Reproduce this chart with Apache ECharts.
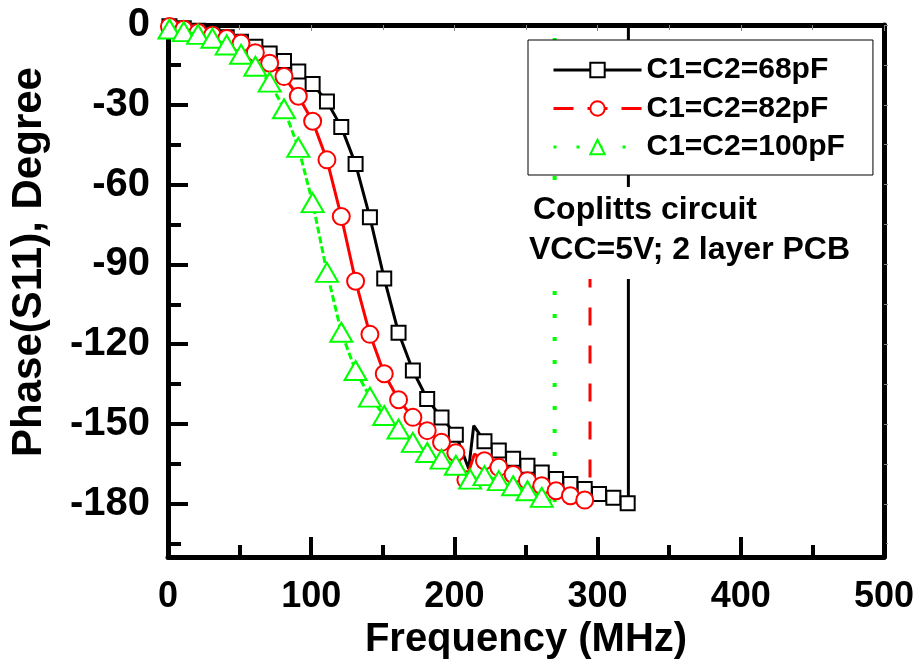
<!DOCTYPE html>
<html><head><meta charset="utf-8">
<script src="https://cdn.jsdelivr.net/npm/echarts@6/dist/echarts.min.js"></script>
<style>html,body{margin:0;padding:0;background:#fff}#c{width:921px;height:666px}</style>
</head><body><div id="c"></div>
<script>
// ---- data ----
const seriesNames = ['C1=C2=68pF', 'C1=C2=82pF', 'C1=C2=100pF'];
const yTickValues = [0, -30, -60, -90, -120, -150, -180];
const yMinorValues = [-15, -45, -75, -105, -135, -165, -195];

const freq68 = [1,11,21,31,41,51,61,71,81,91,101,111,121,131,141,151,161,171,181,191,201,221,231,241,251,261,271,281,291,301,311,321];
const phase68 = [-0.5,-1.2,-2.2,-3.3,-4.6,-6.3,-8.2,-10.7,-13.5,-17.5,-22.2,-28.8,-38.3,-52.3,-72.3,-95.3,-115.7,-129.9,-140.6,-147.6,-154.0,-156.5,-160.0,-163.1,-165.7,-168.2,-170.7,-172.6,-174.4,-176.3,-177.7,-179.8];
const lineOnly68 = [[210,-166.8],[213.5,-150.6]];
const wrap68 = [[321.5,-179.9],[321.5,180]];

const freq82 = [1,11,21,31,41,51,61,71,81,91,101,111,121,131,141,151,161,171,181,191,201,208,221,231,241,251,261,271,281,291];
const phase82 = [-0.6,-1.6,-2.8,-3.9,-5.1,-6.9,-10.4,-14.4,-19.4,-26.8,-36.2,-50.7,-72.0,-96.3,-116.3,-131.1,-140.9,-147.5,-152.5,-156.9,-160.8,-171.0,-163.8,-166.3,-169.0,-171.3,-173.2,-175.1,-177.0,-178.6];
const lineOnly82 = [[214,-161.3],[294.7,-179.5]];
const wrap82 = [[294.7,-179.5],[294.7,180]];

const freq100 = [1,11,21,31,41,51,61,71,81,91,101,111,121,131,141,151,161,171,181,191,201,211,221,231,241,251,261];
const phase100 = [-1.5,-2.5,-3.5,-5.0,-7.5,-11.0,-15.5,-21.5,-31.5,-46.0,-66.8,-93.0,-115.5,-129.9,-139.9,-146.8,-151.9,-156.9,-160.7,-163.2,-165.5,-170.7,-169.4,-171.3,-173.2,-175.1,-177.6];
const lineOnly100 = [[270,-179.3]];
const wrap100 = [[270,-179.3],[270,180]];

function build(freq, phase, lineOnly) {
  const pts = freq.map((f, i) => ({ value: [f, phase[i]] }));
  lineOnly.forEach(p => pts.push({ value: p, symbol: 'none' }));
  pts.sort((a, b) => a.value[0] - b.value[0]);
  return pts;
}

const FONT = '"Liberation Sans", Arial, sans-serif';
const chart = echarts.init(document.getElementById('c'), null, { renderer: 'canvas' });
const G = { left: 168, right: 37, top: 25, bottom: 109 };

const option = {
  animation: false,
  backgroundColor: '#fff',
  grid: G,
  xAxis: [
    {
      type: 'value', min: 0, max: 500, interval: 100, position: 'bottom',
      name: 'Frequency (MHz)', nameLocation: 'middle', nameGap: 56,
      nameTextStyle: { fontFamily: FONT, fontWeight: 'bold', fontSize: 40, color: '#000' },
      axisLine: { show: true, onZero: false, lineStyle: { color: '#000', width: 5 } },
      axisTick: { show: true, inside: true, length: 20, lineStyle: { color: '#000', width: 4 } },
      minorTick: { show: true, splitNumber: 2, length: 12, lineStyle: { color: '#000', width: 4 } },
      axisLabel: { fontFamily: FONT, fontWeight: 'bold', fontSize: 36, color: '#000', margin: 22 },
      splitLine: { show: false }
    },
    {
      type: 'value', min: 0, max: 500, interval: 100, position: 'top',
      axisLine: { show: true, onZero: false, lineStyle: { color: '#000', width: 5 } },
      axisTick: { show: true, inside: true, length: 6, lineStyle: { color: '#888', width: 1 } },
      minorTick: { show: true, splitNumber: 2, length: 5, lineStyle: { color: '#888', width: 1 } },
      axisLabel: { show: false }, splitLine: { show: false }
    }
  ],
  yAxis: [
    {
      type: 'value', min: -200, max: 0, position: 'left',
      name: 'Phase(S11), Degree', nameLocation: 'middle', nameGap: 118,
      nameTextStyle: { fontFamily: FONT, fontWeight: 'bold', fontSize: 42, color: '#000', padding: [0, 0, 0, 58] },
      axisLine: { show: true, onZero: false, lineStyle: { color: '#000', width: 5 } },
      axisTick: { show: true, inside: true, length: 20, customValues: yTickValues, lineStyle: { color: '#000', width: 4 } },
      axisLabel: { fontFamily: FONT, fontWeight: 'bold', fontSize: 40, color: '#000', margin: 18, customValues: yTickValues },
      splitLine: { show: false }
    },
    {
      type: 'value', min: -200, max: 0, position: 'left',
      axisLine: { show: false },
      axisTick: { show: true, inside: true, length: 13, customValues: yMinorValues, lineStyle: { color: '#000', width: 4 } },
      axisLabel: { show: false }, splitLine: { show: false }
    },
    {
      type: 'value', min: -200, max: 0, position: 'right',
      axisLine: { show: true, onZero: false, lineStyle: { color: '#000', width: 5 } },
      axisTick: { show: true, inside: false, length: 4, customValues: yTickValues.concat(yMinorValues), lineStyle: { color: '#888', width: 1 } },
      axisLabel: { show: false }, splitLine: { show: false }
    }
  ],
  legend: {
    orient: 'vertical', left: 528, top: 40,
    padding: [15, 28, 13, 24],
    itemWidth: 88, itemHeight: 18, itemGap: 8.5,
    backgroundColor: '#fff', borderColor: '#000', borderWidth: 1, borderRadius: 0,
    textStyle: { fontFamily: FONT, fontWeight: 'bold', fontSize: 30, color: '#000', lineHeight: 30 },
    data: [
      { name: seriesNames[0], lineStyle: { type: 'solid', width: 3 } },
      { name: seriesNames[1], lineStyle: { type: [20, 14], width: 3 } },
      { name: seriesNames[2], lineStyle: { type: [3, 20], width: 3 } }
    ]
  },
  graphic: [
    { type: 'rect', z: 50, left: 526, top: 187, shape: { width: 350, height: 92 }, style: { fill: '#fff' } },
    { type: 'text', z: 51, left: 533, top: 194, style: { text: 'Coplitts circuit', font: 'bold 32px ' + FONT, fill: '#000' } },
    { type: 'text', z: 51, left: 529, top: 234, style: { text: 'VCC=5V; 2 layer PCB', font: 'bold 32px ' + FONT, fill: '#000' } }
  ],
  series: [
    {
      name: seriesNames[0], type: 'line', xAxisIndex: 0, yAxisIndex: 0,
      data: build(freq68, phase68, lineOnly68),
      symbol: 'emptyRect', symbolSize: 14, showAllSymbol: true,
      lineStyle: { color: '#000', width: 3 },
      itemStyle: { color: '#000', borderWidth: 3 }, z: 3
    },
    {
      name: seriesNames[1], type: 'line', xAxisIndex: 0, yAxisIndex: 0,
      data: build(freq82, phase82, lineOnly82),
      symbol: 'emptyCircle', symbolSize: 17, showAllSymbol: true,
      lineStyle: { color: '#ff0000', width: 3 },
      itemStyle: { color: '#ff0000', borderWidth: 3 }, z: 4
    },
    {
      name: seriesNames[2], type: 'line', xAxisIndex: 0, yAxisIndex: 0,
      data: build(freq100, phase100, lineOnly100),
      symbol: 'emptyTriangle', symbolSize: [22, 19], showAllSymbol: true,
      lineStyle: { color: '#00ff00', width: 3, type: [7, 3] },
      itemStyle: { color: '#00ff00', borderWidth: 3 }, z: 5
    },
    {
      type: 'line', xAxisIndex: 0, yAxisIndex: 0, data: wrap68, symbol: 'none',
      lineStyle: { color: '#000', width: 3 }, z: 3, silent: true
    },
    {
      type: 'line', xAxisIndex: 0, yAxisIndex: 0, data: wrap82, symbol: 'none',
      lineStyle: { color: '#ff0000', width: 3, type: [18, 20], dashOffset: 13 }, z: 3, silent: true
    },
    {
      type: 'line', xAxisIndex: 0, yAxisIndex: 0, data: wrap100, symbol: 'none',
      lineStyle: { color: '#00ff00', width: 4, type: [4, 19] }, z: 3, silent: true
    }
  ]
};
chart.setOption(option);
</script>
</body></html>
